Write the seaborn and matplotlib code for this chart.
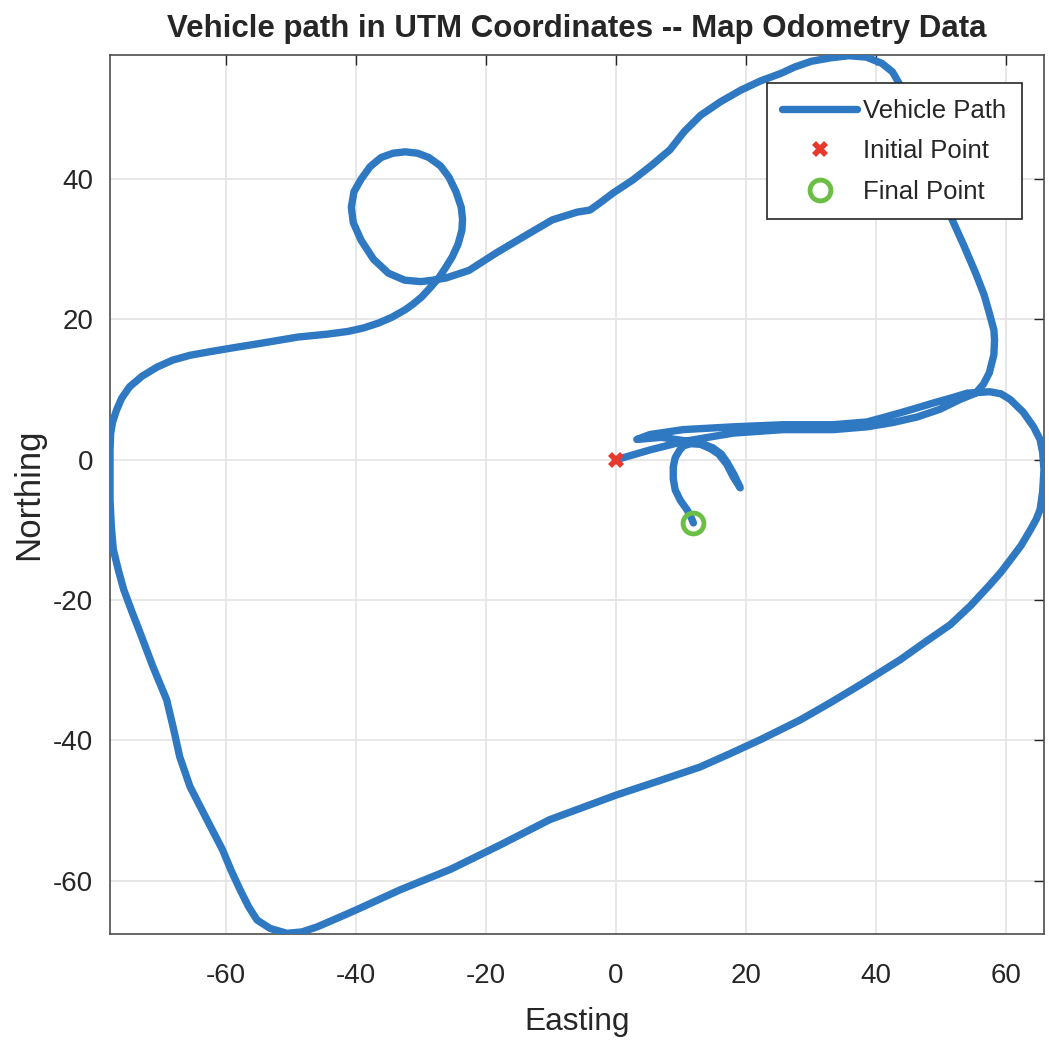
import matplotlib
matplotlib.use("Agg")
import matplotlib.pyplot as plt
import seaborn as sns
import pandas as pd

# Vehicle path (Easting, Northing), in travel order
easting = [0.0, 5.2, 10.3, 18.0, 25.7, 33.4, 38.6, 42.5, 46.3, 49.8, 52.9, 55.3,
           56.5, 57.4, 58.1, 58.2, 58.1, 57.4, 56.6, 55.3, 53.5, 51.7, 50.0, 48.5, 47.0,
           46.0, 44.5, 43.5, 42.5, 40.9, 38.5, 35.8, 33.0, 30.0, 27.5, 25.4, 22.2, 19.2,
           16.0, 13.0, 10.5, 8.3, 5.5, 2.6, -0.5, -2.5, -4.0, -6.0, -9.8, -13.3, -18.4,
           -22.6, -26.2, -28.2, -30.0, -32.5, -35.0, -37.3, -39.2, -40.4, -40.7, -40.3,
           -39.2, -37.8, -36.1, -34.3, -32.4, -30.5, -28.8, -27.0, -25.7, -24.6, -23.8,
           -23.6, -23.7, -24.3, -25.2, -26.2, -27.2, -28.5, -29.9, -31.2, -32.4, -34.5,
           -36.5, -38.8, -41.2, -44.5, -48.9, -54.0, -59.3, -62.5, -65.5, -68.2, -70.6,
           -72.9, -74.8, -76.0, -76.8, -77.4, -77.7, -77.8, -77.8, -77.8, -77.6, -77.3,
           -76.5, -75.7, -74.5, -73.2, -71.2, -69.1, -68.0, -67.1, -65.5, -62.9, -60.5,
           -59.2, -57.8, -56.5, -55.2, -53.2, -50.6, -48.3, -46.0, -43.0, -39.8, -33.2,
           -25.5, -17.8, -10.2, 0.0, 6.5, 12.9, 17.5, 22.2, 28.3, 33.0, 37.5, 43.7, 47.5,
           51.4, 54.5, 57.5, 59.2, 60.6, 62.3, 63.7, 64.6, 65.2, 65.6, 65.8, 65.6, 65.2,
           64.2, 62.6, 60.6, 59.2, 57.5, 55.8, 54.0, 51.5, 48.8, 46.3, 43.7, 41.0, 38.6,
           33.4, 25.7, 18.0, 10.3, 5.2, 3.2, 7.0, 11.4, 13.2, 14.9, 16.2, 17.1, 18.2,
           19.1, 18.0, 17.0, 15.8, 14.5, 13.0, 11.5, 10.4, 9.8, 9.1, 8.8, 8.8, 9.1, 9.9,
           10.9, 11.5, 11.9]
northing = [0.0, 1.4, 2.6, 3.8, 4.3, 4.3, 4.7, 5.3, 6.1, 7.2, 8.6, 9.5,
            10.8, 12.4, 15.0, 17.1, 18.5, 20.9, 23.5, 26.6, 30.5, 34.2, 37.5, 40.5, 44.0,
            47.5, 51.5, 53.7, 55.3, 56.5, 57.4, 57.6, 57.3, 56.8, 56.0, 55.1, 54.0, 52.7,
            51.0, 49.1, 46.8, 44.2, 42.0, 39.9, 38.0, 36.6, 35.6, 35.3, 34.2, 32.3, 29.5,
            27.0, 25.9, 25.6, 25.4, 25.6, 26.6, 28.6, 31.3, 33.8, 36.0, 38.2,
            40.0, 41.8, 43.1, 43.7, 43.9, 43.7, 43.1, 41.9, 40.3, 38.2, 36.0,
            34.3, 32.7, 30.7, 28.9, 27.4, 26.0, 24.6, 23.2, 22.2, 21.4, 20.3,
            19.5, 18.8, 18.3, 17.9, 17.5, 16.7, 15.9, 15.4, 14.9, 14.2, 13.2,
            11.9, 10.4, 8.8, 7.1, 5.4, 3.8, 1.5, -2.0, -5.7, -9.5, -12.8,
            -15.8, -18.5, -21.5, -24.6, -29.5, -34.2, -38.5, -42.3, -46.6, -51.3, -55.6,
            -58.5, -61.3, -63.7, -65.6, -66.8, -67.5, -67.3, -66.6, -65.4, -64.1, -61.3,
            -58.4, -54.9, -51.3, -47.8, -45.8, -43.8, -41.9, -39.9, -37.1, -34.6, -32.1, -28.5, -26.0,
            -23.5, -20.8, -17.8, -16.0, -14.3, -12.2, -10.0, -8.5, -7.1, -4.5, -1.4, 1.0, 2.9,
            4.7, 6.8, 8.6, 9.4, 9.7, 9.6, 9.5, 8.8, 8.1, 7.4, 6.7, 6.0, 5.4,
            5.0, 5.0, 4.7, 4.3, 3.6, 2.9, 3.2, 2.6, 2.3, 1.7, 0.8, -0.4, -2.2,
            -4.0, -2.4, -0.6, 0.8, 1.6, 2.2, 2.3, 2.0, 1.4, 0.3, -1.0, -2.7, -4.3, -5.8,
            -7.1, -8.1, -9.0]

initial_point = (0.0, 0.0)
final_point = (11.9, -9.0)

x_ticks = [-60, -40, -20, 0, 20, 40, 60]
y_ticks = [-60, -40, -20, 0, 20, 40]

title_text = "Vehicle path in UTM Coordinates -- Map Odometry Data"
legend_labels = ["Vehicle Path", "Initial Point", "Final Point"]

sns.set_style("white")
plt.rcParams["font.family"] = ["Liberation Sans", "DejaVu Sans"]
plt.rcParams["axes.unicode_minus"] = False

text_col = "#262626"
path_col = "#2f78c2"

df = pd.DataFrame({"Easting": easting, "Northing": northing})

fig = plt.figure(figsize=(10.49, 10.40), dpi=100)
ax = fig.add_axes([0.1049, 0.1019, 0.8903, 0.8452])

sns.lineplot(data=df, x="Easting", y="Northing", sort=False, estimator=None,
             color=path_col, linewidth=5.3, ax=ax, label=legend_labels[0], zorder=3)
for ln in ax.get_lines():
    ln.set_solid_joinstyle("round")
    ln.set_solid_capstyle("round")
ax.plot([initial_point[0]], [initial_point[1]], linestyle="none", marker="X",
        markersize=11, color="#e8392f", markeredgewidth=0, label=legend_labels[1], zorder=4)
ax.plot([final_point[0]], [final_point[1]], linestyle="none", marker="o",
        markersize=15, markerfacecolor="none", markeredgecolor="#6cbf45",
        markeredgewidth=3.5, label=legend_labels[2], zorder=4)

ax.set_xlim(-77.8, 65.8)
ax.set_ylim(-67.6, 57.7)
ax.set_xticks(x_ticks)
ax.set_yticks(y_ticks)
ax.grid(True, color="#e3e3e3", linewidth=1.2, zorder=0)
ax.set_axisbelow(True)
ax.tick_params(direction="in", length=7, width=1, colors=text_col,
               labelsize=20, top=True, right=True)
ax.tick_params(axis="x", pad=21)
ax.tick_params(axis="y", pad=12)
for s in ax.spines.values():
    s.set_color("#4d4d4d")
    s.set_linewidth(1.2)

ax.set_title(title_text, fontsize=22.5, fontweight="bold", color=text_col, pad=13)
ax.set_xlabel("Easting", fontsize=22.8, color=text_col, labelpad=13)
ax.set_ylabel("Northing", fontsize=25, color=text_col, labelpad=6)

leg = ax.legend(loc="upper right", bbox_to_anchor=(0.9764, 0.968), borderaxespad=0,
                fontsize=18.5, frameon=True, fancybox=False, framealpha=1,
                edgecolor="#262626", handlelength=2.9, borderpad=0.6,
                labelspacing=0.65, handletextpad=0.25)
leg.get_frame().set_linewidth(1.2)
leg.set_zorder(10)
for t in leg.get_texts():
    t.set_color(text_col)

fig.savefig("out.png", dpi=100)
